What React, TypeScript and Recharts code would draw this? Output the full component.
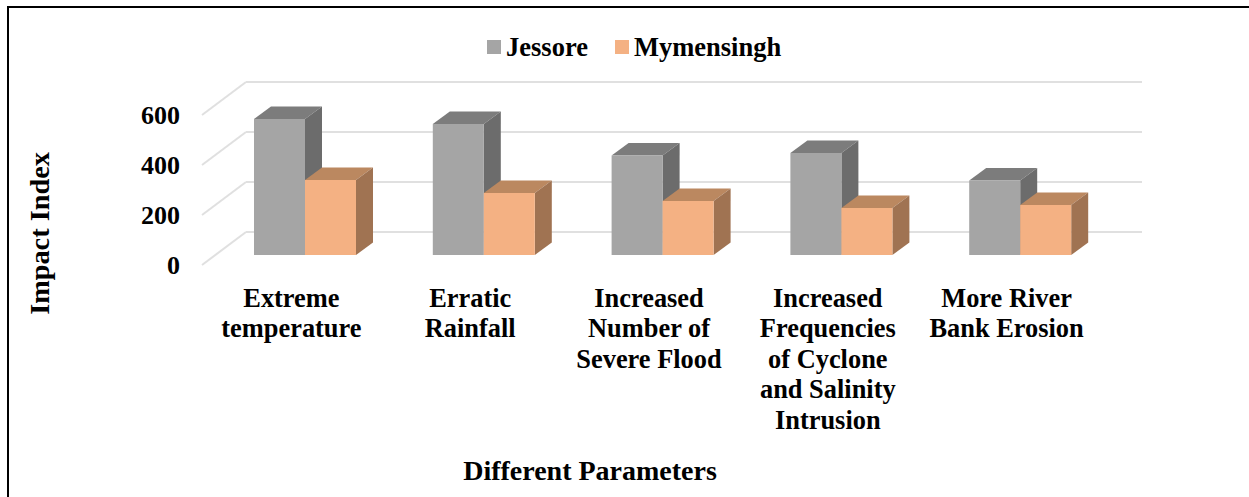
import { Bar, BarChart, CartesianGrid, Legend, XAxis, YAxis } from "recharts"

const categories = [
  "Extreme\ntemperature",
  "Erratic\nRainfall",
  "Increased\nNumber of\nSevere Flood",
  "Increased\nFrequencies\nof Cyclone\nand Salinity\nIntrusion",
  "More River\nBank Erosion",
]
const jessore = [544, 524, 398, 408, 298]
const mymensingh = [300, 248, 216, 188, 200]
const yTicks = [0, 200, 400, 600]

const data = categories.map((category, i) => ({
  category,
  Jessore: jessore[i],
  Mymensingh: mymensingh[i],
}))

const serif = "'Liberation Serif', serif"

// depth of the floor and back wall
const WALL_DX = 44
const WALL_DY = 33
const WALL_EXTRA = 2
// bars stand in the middle of that depth
const BAR_SHIFT_X = 14
const BAR_SHIFT_Y = 10
const BAR_DX = 17
const BAR_DY = 12.6

function GridLine(props: any) {
  const { x1, x2, y1 } = props
  return (
    <g stroke="#e0e0e0" strokeWidth={2} fill="none">
      <line x1={x1} y1={y1} x2={x1 + WALL_DX} y2={y1 - WALL_DY} />
      <line x1={x1 + WALL_DX} y1={y1 - WALL_DY} x2={x2 + WALL_DX + WALL_EXTRA} y2={y1 - WALL_DY} />
    </g>
  )
}

function box(front: string, top: string, side: string) {
  return function Box(props: any) {
    const x = props.x + BAR_SHIFT_X
    const y = props.y - BAR_SHIFT_Y
    const { width: w, height: h } = props
    return (
      <g>
        <polygon
          fill={top}
          points={`${x},${y} ${x + BAR_DX},${y - BAR_DY} ${x + w + BAR_DX},${y - BAR_DY} ${x + w},${y}`}
        />
        <polygon
          fill={side}
          points={`${x + w},${y} ${x + w + BAR_DX},${y - BAR_DY} ${x + w + BAR_DX},${y + h - BAR_DY} ${x + w},${y + h}`}
        />
        <rect x={x} y={y} width={w} height={h} fill={front} />
      </g>
    )
  }
}

function CategoryTick(props: any) {
  const { x, y, payload } = props
  return (
    <text x={x} y={y} textAnchor="middle" fontFamily={serif} fontWeight="bold" fontSize={26.4} fill="#000">
      {String(payload.value)
        .split("\n")
        .map((line, i) => (
          <tspan key={line} x={x} y={y + 33.5 + i * 30.6}>
            {line}
          </tspan>
        ))}
    </text>
  )
}

function LegendRow(props: any) {
  return (
    <div style={{ display: "flex", fontFamily: serif, fontWeight: "bold", fontSize: 26.5, lineHeight: "30px" }}>
      {props.payload.map((item: any, i: number) => (
        <div key={item.value} style={{ display: "flex", alignItems: "center", marginLeft: i ? 27 : 0 }}>
          <span style={{ width: 14, height: 14, background: item.color, marginRight: 5 }} />
          <span>{item.value}</span>
        </div>
      ))}
    </div>
  )
}

export default function App() {
  return (
    <div style={{ position: "absolute", left: 0, top: 0, width: 1249, height: 497, background: "#fff", overflow: "hidden" }}>
      <div
        style={{
          position: "absolute",
          left: 7,
          top: 6,
          right: 0,
          bottom: 0,
          borderLeft: "2px solid #000",
          borderTop: "2px solid #000",
        }}
      />
      <BarChart
        width={1249}
        height={497}
        data={data}
        barSize={51}
        barGap={0}
        margin={{ top: 115, right: 153, bottom: 0, left: 0 }}
      >
        <CartesianGrid vertical={false} horizontal={(p: any) => <GridLine key={p.y1} {...p} />} />
        <XAxis
          dataKey="category"
          interval={0}
          height={232}
          axisLine={false}
          tickLine={false}
          tick={<CategoryTick />}
          label={{
            content: () => (
              <text x={590} y={480} textAnchor="middle" fontFamily={serif} fontWeight="bold" fontSize={28} fill="#000">
                Different Parameters
              </text>
            ),
          }}
        />
        <YAxis
          width={202}
          domain={[0, 600]}
          ticks={yTicks}
          axisLine={false}
          tickLine={false}
          tickMargin={16}
          tick={{ fontFamily: serif, fontWeight: "bold", fontSize: 26, fill: "#000" }}
          label={{
            content: () => (
              <text
                x={0}
                y={0}
                transform="translate(49 233.5) rotate(-90)"
                textAnchor="middle"
                fontFamily={serif}
                fontWeight="bold"
                fontSize={28.3}
                fill="#000"
              >
                Impact Index
              </text>
            ),
          }}
        />
        <Legend
          layout="horizontal"
          verticalAlign="middle"
          align="center"
          content={<LegendRow />}
          wrapperStyle={{ top: 32, left: 487, width: 320, bottom: "auto" }}
        />
        <Bar dataKey="Jessore" fill="#a5a5a5" isAnimationActive={false} shape={box("#a5a5a5", "#7c7c7c", "#6c6c6c")} />
        <Bar dataKey="Mymensingh" fill="#f4b183" isAnimationActive={false} shape={box("#f4b183", "#bb8860", "#a07352")} />
      </BarChart>
    </div>
  )
}
